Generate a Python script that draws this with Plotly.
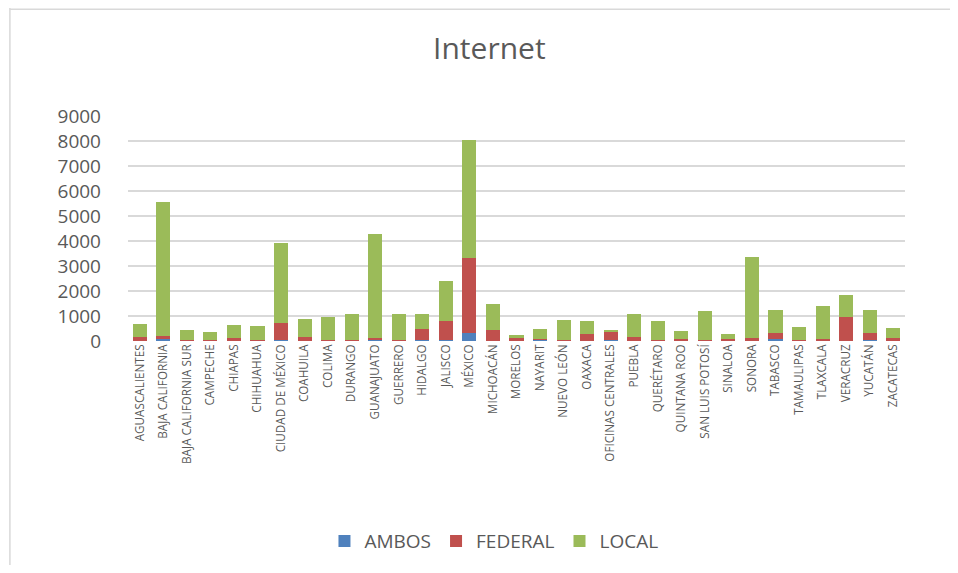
import plotly.graph_objects as go

categories = ["AGUASCALIENTES", "BAJA CALIFORNIA", "BAJA CALIFORNIA SUR", "CAMPECHE", "CHIAPAS",
              "CHIHUAHUA", "CIUDAD DE MÉXICO", "COAHUILA", "COLIMA", "DURANGO", "GUANAJUATO",
              "GUERRERO", "HIDALGO", "JALISCO", "MÉXICO", "MICHOACÁN", "MORELOS", "NAYARIT",
              "NUEVO LEÓN", "OAXACA", "OFICINAS CENTRALES", "PUEBLA", "QUERÉTARO", "QUINTANA ROO",
              "SAN LUIS POTOSÍ", "SINALOA", "SONORA", "TABASCO", "TAMAULIPAS", "TLAXCALA",
              "VERACRUZ", "YUCATÁN", "ZACATECAS"]

ambos = [10, 90, 5, 5, 10, 5, 60, 10, 5, 5, 50,
         5, 30, 40, 330, 10, 5, 40, 5, 10, 30, 10, 5, 5,
         20, 5, 10, 80, 5, 5, 20, 60, 5]
federal = [170, 110, 25, 20, 120, 55, 650, 140, 55, 25, 80,
           35, 440, 775, 2990, 440, 135, 60, 25, 280, 350, 170, 55, 95,
           40, 75, 110, 250, 25, 75, 930, 270, 115]
local = [520, 5350, 420, 330, 530, 530, 3200, 730, 890, 1050, 4170,
         1025, 630, 1585, 4710, 1050, 110, 390, 825, 525, 70, 920, 755, 295,
         1150, 210, 3235, 920, 520, 1330, 890, 910, 390]

series = [("AMBOS", ambos, "#4F81BD"), ("FEDERAL", federal, "#C0504D"), ("LOCAL", local, "#9BBB59")]

fig = go.Figure()
for name, vals, col in series:
    fig.add_trace(go.Bar(x=categories, y=vals, name=name, marker_color=col,
                         marker_line_width=0))

fig.update_layout(
    width=942, height=557,
    barmode="stack", bargap=0.4,
    paper_bgcolor="white", plot_bgcolor="white",
    margin=dict(l=120, r=45, t=108, b=224, autoexpand=False),
    title=dict(text="Internet", x=0.511, xanchor="center", y=0.928, yanchor="middle",
               font=dict(family="Open Sans", size=30, color="#595959")),
    font=dict(family="Open Sans", color="#595959"),
    legend=dict(orientation="h", x=0.471, xanchor="center", y=-0.889, yanchor="middle",
                font=dict(size=19, color="#595959"), traceorder="normal",
                itemwidth=30),
    yaxis=dict(range=[0, 9000], dtick=1000, showgrid=True, gridcolor="#D9D9D9", gridwidth=2,
               zeroline=False, showline=False, ticks="", ticklabelstandoff=26, automargin=False,
               tickfont=dict(family="Open Sans", size=19, color="#595959")),
    xaxis=dict(tickangle=-90, showline=False, ticks="", automargin=False,
               tickfont=dict(family="Open Sans", size=11.7, color="#595959")),
    shapes=[
        dict(type="line", xref="paper", yref="paper", x0=-0.152, x1=-0.152, y0=-1.0, y1=1.48,
             line=dict(color="#D9D9D9", width=1.5)),
        dict(type="line", xref="paper", yref="paper", x0=-0.152, x1=1.06, y0=1.475, y1=1.475,
             line=dict(color="#D9D9D9", width=1.5)),
    ],
)

fig.write_html("out.html")
